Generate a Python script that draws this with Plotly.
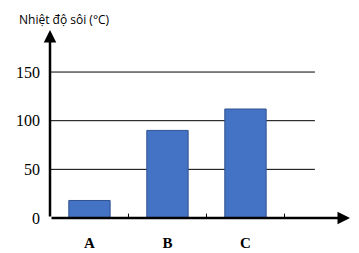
import plotly.graph_objects as go

categories = ["A", "B", "C"]
values = [18, 90, 112]
y_ticks = [0, 50, 100, 150]
title_text = "Nhiệt độ sôi (°C)"

fig = go.Figure()
fig.add_trace(go.Bar(
    x=categories, y=values, width=0.53,
    marker=dict(color="#4472C4", line=dict(color="#2F528F", width=1)),
))

# gridlines (shorter than the axis)
for v in y_ticks[1:]:
    fig.add_shape(type="line", xref="paper", yref="y", x0=0, x1=0.883, y0=v, y1=v,
                  line=dict(color="black", width=1), layer="below")

# x tick marks crossing the axis at category boundaries
for b in [0.5, 1.5, 2.5]:
    fig.add_shape(type="line", xref="x", yref="y", x0=b, x1=b, y0=-5, y1=4.5,
                  line=dict(color="black", width=1))

# axes with arrows
fig.add_annotation(xref="paper", yref="paper", x=1, y=0, ax=-300, ay=0, axref="pixel", ayref="pixel",
                   text="", showarrow=True, arrowhead=2, arrowsize=1, arrowwidth=2.5, arrowcolor="black")
fig.add_annotation(xref="paper", yref="paper", x=0, y=1, ax=0, ay=188, text="",
                   showarrow=True, arrowhead=2, arrowsize=1, arrowwidth=2.5, arrowcolor="black")

fig.add_annotation(xref="paper", yref="paper", x=0, y=1, xshift=-33, yshift=11,
                   xanchor="left", yanchor="middle",
                   text=title_text, showarrow=False,
                   font=dict(family="Open Sans", size=12, color="black"))

fig.update_layout(
    width=359, height=253,
    margin=dict(l=50, r=9, t=30, b=35, autoexpand=False),
    paper_bgcolor="white", plot_bgcolor="white",
    showlegend=False,
    xaxis=dict(range=[-0.506, 3.34], showgrid=False, zeroline=False, showline=False,
               ticks="", tickfont=dict(family="Liberation Serif", size=15, color="black"),
               ticklabelstandoff=14, automargin=False),
    yaxis=dict(range=[0, 193.2], tickvals=y_ticks, showgrid=False, zeroline=False,
               showline=False, ticks="", ticklabelstandoff=9, automargin=False,
               tickfont=dict(family="Liberation Serif", size=16, color="black")),
)
fig.update_xaxes(tickprefix="<b>", ticksuffix="</b>")
fig.write_html("out.html")
